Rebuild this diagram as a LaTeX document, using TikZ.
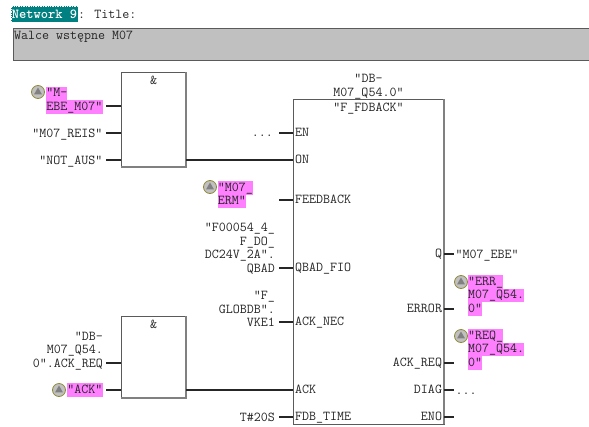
\documentclass[tikz,border=0pt]{standalone}
\usepackage{fontspec}
\usepackage{xcolor}
\usetikzlibrary{shapes.geometric,positioning}
\definecolor{symbolpink}{HTML}{FF80FF}
\definecolor{nettag}{HTML}{008080}
\definecolor{commentgray}{HTML}{C0C0C0}
\definecolor{edgegray}{HTML}{808080}
\definecolor{inkgray}{HTML}{262626}
\newcommand{\txtline}[1]{\rule[-3.5pt]{0pt}{13.5pt}#1}
\newcommand{\hl}[1]{{\setlength{\fboxsep}{0pt}\colorbox{symbolpink}{\txtline{#1}}}}

\begin{document}
\begin{tikzpicture}[
  x=1pt, y=-1pt,
  font=\ttfamily\fontsize{13.6}{13.5}\selectfont,
  every node/.style={inner sep=0pt, outer sep=0pt, text=inkgray},
  block/.style={rectangle, draw=edgegray!70!black, line width=0.9pt, anchor=north west},
  wire/.style={line width=1.4pt, black!85},
  sym/.style={align=right, anchor=east},
  symhl/.style={align=left, anchor=east},
  oneline/.style={text height=11pt, text depth=2.7pt},
  pinlabel/.style={anchor=west, text height=10pt, text depth=3pt},
  pinlabelr/.style={anchor=east, text height=10pt, text depth=3pt},
  status/.style={circle, fill=commentgray, draw=olive!60!gray, line width=0.8pt, minimum size=13pt},
  tri/.style={regular polygon, regular polygon sides=3, fill=edgegray, minimum size=9pt}
]
\useasboundingbox (0,0) rectangle (589,426);

% header
\node[fill=nettag, draw=white, densely dotted, line width=0.7pt, text=white, minimum width=67pt, minimum height=16pt, font=\ttfamily\bfseries\fontsize{13.8}{14}\selectfont] (tag) at (44.5,14) {Network 9};
\node[anchor=west, right=0pt of tag] (title) {: Title:};
\node[block, fill=commentgray, minimum width=590pt, minimum height=32pt] (comment) at (13,28) {};
\node[anchor=north west] (commenttxt) at (14,31) {Walce wstępne M07};

% boxes
\node[block, fill=white, minimum width=65pt, minimum height=95pt] (and1) at (121,72) {};
\node[block, fill=white, minimum width=65pt, minimum height=82pt] (and2) at (121,316) {};
\node[block, fill=white, minimum width=151pt, minimum height=325pt] (fb) at (293,99) {};
\draw[edgegray, line width=1.3pt] (fb.north east) -- (fb.south east);
\draw[edgegray, line width=1.3pt] (and1.north east) -- (and1.south east) -- (and1.south west);
\draw[edgegray, line width=1.3pt] (and2.north east) -- (and2.south east) -- (and2.south west);
\node[below=4pt of and1.north] (amp1) {\&};
\node[below=4pt of and2.north] (amp2) {\&};
\node[align=center, above=-0.5pt of fb.north] (dbname) {\txtline{"DB-}\\\txtline{M07\_Q54.0"}};
\node[below=3.5pt of fb.north] (fbname) {"F\_FDBACK"};

% coordinates of the pins
\coordinate (a1) at (121,106); \coordinate (a2) at (121,133); \coordinate (a3) at (121,160);
\coordinate (b1) at (121,363); \coordinate (b2) at (121,390);
\coordinate (en) at (293,133); \coordinate (on) at (293,160); \coordinate (fe) at (293,200);
\coordinate (qb) at (293,268); \coordinate (ne) at (293,322); \coordinate (ak) at (293,390);
\coordinate (ti) at (293,417);
\coordinate (q)  at (444,254); \coordinate (er) at (444,309); \coordinate (rq) at (444,363);
\coordinate (di) at (444,390); \coordinate (eo) at (444,417);
\coordinate (a1o) at (186,160); \coordinate (b2o) at (186,390);
\coordinate (eoend) at (454,417);

% left side symbols
\node[symhl] (s1) at (102.5,100) {\hl{"M-}\\\hl{EBE\_M07"}};
\node[sym, oneline] (s2) at (102.5,133) {"M07\_REIS"};
\node[sym, oneline] (s3) at (102.5,160) {"NOT\_AUS"};
\node[sym] (s4) at (103,350.5) {\txtline{"DB-}\\\txtline{M07\_Q54.}\\\txtline{0".ACK\_REQ}};
\node[sym] (s5) at (102.5,390) {\hl{"ACK"}};
\node[sym] (s6) at (273,136) {...};
\node[symhl] (s7) at (253,194.5) {\hl{"M07\_}\\\hl{ERM"}};
\node[sym] (s8) at (275,248.7) {\txtline{"F00054\_4\_}\\\txtline{F\_DO\_}\\\txtline{DC24V\_2A".}\\\txtline{QBAD}};
\node[sym] (s9) at (275,310) {\txtline{"F\_}\\\txtline{GLOBDB".}\\\txtline{VKE1}};
\node[sym, oneline] (s10) at (275,417) {T\#20S};

% right side symbols
\node[anchor=west, oneline] (r1) at (455.5,254) {"M07\_EBE"};
\node[anchor=west, align=left] (r2) at (468,295.5) {\hl{"ERR\_}\\\hl{M07\_Q54.}\\\hl{0"}};
\node[anchor=west, align=left] (r3) at (468,349.5) {\hl{"REQ\_}\\\hl{M07\_Q54.}\\\hl{0"}};
\node[anchor=west] (r4) at (455.5,394) {...};

% pin names
\node[pinlabel, right=2pt of en] (len) {EN};
\node[pinlabel, right=2pt of on] (lon) {ON};
\node[pinlabel, right=2pt of fe] (lfe) {FEEDBACK};
\node[pinlabel, right=2pt of qb] (lqb) {QBAD\_FIO};
\node[pinlabel, right=2pt of ne] (lne) {ACK\_NEC};
\node[pinlabel, right=2pt of ak] (lak) {ACK};
\node[pinlabel, right=2pt of ti] (lti) {FDB\_TIME};
\node[pinlabelr, left=2pt of q] (lq) {Q};
\node[pinlabelr, left=2pt of er] (ler) {ERROR};
\node[pinlabelr, left=2pt of rq] (lrq) {ACK\_REQ};
\node[pinlabelr, left=2pt of di] (ldi) {DIAG};
\node[pinlabelr, left=2pt of eo] (leo) {ENO};

% status icons
\foreach \n/\px/\py in {i1/38/92, i2/210/187, i3/59/390, i4/461/282, i5/461/336} {
  \node[status] (\n) at (\px,\py) {};
  \node[tri] (\n t) at (\px,\py) {};
}

% wires
\draw[wire] ([xshift=3.5pt]s1.east |- a1) -- (a1);
\draw[wire] ([xshift=3.5pt]s2.east) -- (a2);
\draw[wire] ([xshift=3.5pt]s3.east) -- (a3);
\draw[wire] ([xshift=3pt]s4.east |- b1) -- (b1);
\draw[wire] ([xshift=3.5pt]s5.east) -- (b2);
\draw[wire] (a1o) -- (on);
\draw[wire] (b2o) -- (ak);
\draw[wire] ([xshift=6pt]s6.east |- en) -- (en);
\draw[wire] ([xshift=26pt]s7.east |- fe) -- (fe);
\draw[wire] ([xshift=4pt]s8.east |- qb) -- (qb);
\draw[wire] ([xshift=4pt]s9.east |- ne) -- (ne);
\draw[wire] ([xshift=4pt]s10.east) -- (ti);
\draw[wire] (q) -- ([xshift=-1.5pt]r1.west);
\draw[wire] (er) -- ([xshift=10pt]er);
\draw[wire] (rq) -- ([xshift=10pt]rq);
\draw[wire] (di) -- ([xshift=-1.5pt]r4.west |- di);
\draw[wire] (eo) -- (eoend);
\end{tikzpicture}
\end{document}
